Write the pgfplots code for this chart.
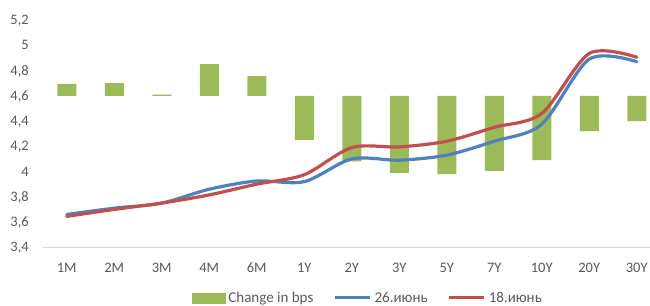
\documentclass[border=0pt]{standalone}
\usepackage{fontspec}
\setmainfont{Carlito}
\usepackage{pgfplots}
\pgfplotsset{compat=1.18}
\definecolor{barg}{HTML}{9BBB59}
\definecolor{lblue}{HTML}{4F81BD}
\definecolor{lred}{HTML}{C0504D}
\definecolor{txt}{HTML}{595959}
\definecolor{axl}{HTML}{D9D9D9}
\pgfplotsset{base/.style={at={(43bp,58.7bp)}, anchor=south west, scale only axis,
  width=617.5bp, height=227.3bp, xmin=-0.5, xmax=12.5, ymin=3.4, ymax=5.2},
  linelegend/.style={legend image code/.code={\draw[##1, line cap=butt] (0bp,0bp) -- (35bp,0bp);}},
  barlegend/.style={legend image code/.code={\fill[barg] (0bp,-5.5bp) rectangle (33bp,4.65bp);}}}
\begin{document}
\begin{tikzpicture}
\path[use as bounding box] (0,0) rectangle (650bp,306bp);
\clip (0,0) rectangle (650bp,306bp);
\begin{axis}[base,
  ybar stacked, bar width=19bp,
  axis lines*=left,
  y axis line style={draw=none},
  x axis line style={draw=axl, line width=0.9bp},
  tick style={draw=none},
  xtick={0,...,12},
  xticklabels={1M,2M,3M,4M,6M,1Y,2Y,3Y,5Y,7Y,10Y,20Y,30Y},
  ytick={3.4,3.6,3.8,4,4.2,4.4,4.6,4.8,5,5.2},
  tick label style={font=\fontsize{14.5bp}{17bp}\selectfont, text=txt, inner sep=0pt},
  xticklabel style={anchor=base, yshift=-25.4bp},
  yticklabel style={anchor=base east, xshift=-14bp, yshift=-4.6bp,
    /pgf/number format/.cd, use comma, fixed, precision=1, assume math mode=true},
]
\addplot[fill=none, draw=none] coordinates {(0,4.6) (1,4.6) (2,4.6) (3,4.6) (4,4.6) (5,4.25) (6,4.08) (7,3.99) (8,3.98) (9,4.005) (10,4.09) (11,4.32) (12,4.40)};
\addplot[fill=barg, draw=none] coordinates {(0,0.095) (1,0.10) (2,0.01) (3,0.25) (4,0.155) (5,0.35) (6,0.52) (7,0.61) (8,0.62) (9,0.595) (10,0.51) (11,0.28) (12,0.20)};
\end{axis}
\begin{axis}[base, hide axis,
  legend columns=3,
  legend style={draw=none, fill=none, inner sep=0pt, outer sep=0pt,
    at={(0.2413,-0.2011)}, anchor=north west,
    font=\fontsize{15bp}{18bp}\selectfont, text=txt,
    nodes={inner sep=0pt, text height=9.3bp, text depth=0pt},
    /tikz/every odd column/.style={column sep=3bp},
    /tikz/every even column/.style={column sep=20bp}},
]
\addlegendimage{barlegend}
\addlegendentry{Change in bps}
\addplot[lblue, line width=3.2bp, line cap=round, smooth, tension=0.5, linelegend]
  coordinates {(0,3.66) (1,3.71) (2,3.75) (3,3.86) (4,3.925) (5,3.92) (6,4.10) (7,4.09) (8,4.13) (9,4.24) (10,4.375) (11,4.89) (12,4.87)};
\addlegendentry{26.июнь}
\addplot[lred, line width=3.2bp, line cap=round, smooth, tension=0.5, linelegend]
  coordinates {(0,3.645) (1,3.70) (2,3.75) (3,3.815) (4,3.90) (5,3.975) (6,4.19) (7,4.195) (8,4.24) (9,4.35) (10,4.46) (11,4.935) (12,4.905)};
\addlegendentry{18.июнь}
\end{axis}
\end{tikzpicture}
\end{document}
